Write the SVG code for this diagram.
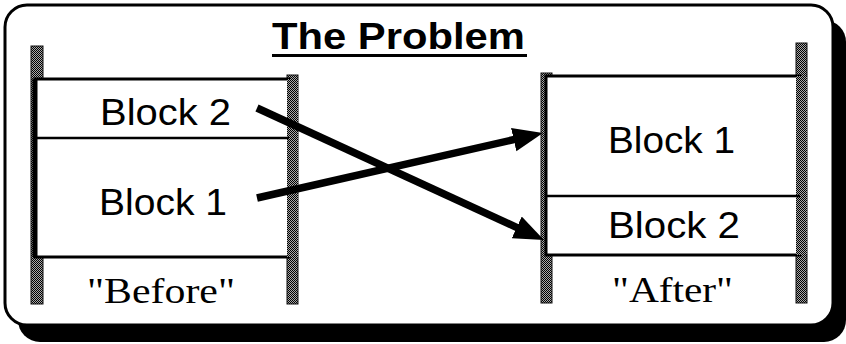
<svg xmlns="http://www.w3.org/2000/svg" width="846" height="344" viewBox="0 0 846 344">
<defs>
<pattern id="dots" width="2" height="2" patternUnits="userSpaceOnUse">
<rect width="2" height="2" fill="#aaa"/>
<rect width="1" height="1" fill="#000"/>
<rect x="1" y="1" width="1" height="1" fill="#000"/>
</pattern>
<marker id="head" markerUnits="userSpaceOnUse" markerWidth="32" markerHeight="26" refX="8" refY="13" orient="auto">
<path d="M0,1 L30,13 L0,25 Z" fill="#000"/>
</marker>
<style>
.post{fill:url(#dots);stroke:#111;stroke-width:1}
.box{fill:#fff;stroke:#000;stroke-width:3}
.div{stroke:#000;stroke-width:2.5}
.lbl{font-family:"Liberation Sans",Arial,sans-serif;font-size:36px;fill:#000;text-anchor:middle}
.cap{font-family:"Liberation Serif","Times New Roman",serif;font-size:36px;fill:#000;text-anchor:middle}
.title{font-family:"Liberation Sans",Arial,sans-serif;font-size:36px;font-weight:bold;fill:#000;text-anchor:middle}
.arrow{stroke:#000;stroke-width:7.5;fill:none;marker-end:url(#head)}
</style>
</defs>
<rect width="846" height="344" fill="#fff"/>
<g id="frame">
<rect x="18" y="20" width="828" height="322" rx="22" fill="#000"/>
<rect x="5" y="5" width="828" height="320" rx="22" fill="#fff" stroke="#000" stroke-width="3"/>
</g>
<g id="title">
<text class="title" x="398.5" y="49" textLength="253" lengthAdjust="spacingAndGlyphs">The Problem</text>
<line x1="272" y1="55.5" x2="527" y2="55.5" stroke="#000" stroke-width="3"/>
</g>
<g id="before">
<rect class="post" x="31" y="46" width="12" height="258"/>
<rect class="post" x="287" y="75" width="11" height="229"/>
<rect class="box" x="35" y="79" width="254" height="178"/>
<line x1="35" y1="79" x2="35" y2="257" stroke="#000" stroke-width="5"/>
<rect x="287" y="79" width="11" height="178" fill="url(#dots)"/>
<line class="div" x1="35" y1="138" x2="289" y2="138"/>
<text class="lbl" x="165.5" y="125" textLength="131" lengthAdjust="spacingAndGlyphs">Block 2</text>
<text class="lbl" x="163" y="215" textLength="128" lengthAdjust="spacingAndGlyphs">Block 1</text>
<text class="cap" x="161" y="303" textLength="148" lengthAdjust="spacingAndGlyphs">"Before"</text>
</g>
<g id="after">
<rect class="post" x="541" y="73" width="11" height="230"/>
<rect class="post" x="796" y="43" width="11" height="260"/>
<rect class="box" x="546" y="76" width="254" height="179"/>
<rect x="796" y="76" width="11" height="179" fill="url(#dots)"/>
<line class="div" x1="546" y1="196" x2="800" y2="196"/>
<text class="lbl" x="671.5" y="153" textLength="127" lengthAdjust="spacingAndGlyphs">Block 1</text>
<text class="lbl" x="674" y="238" textLength="132" lengthAdjust="spacingAndGlyphs">Block 2</text>
<text class="cap" x="672.5" y="302" textLength="121" lengthAdjust="spacingAndGlyphs">"After"</text>
</g>
<g id="connectors">
<line class="arrow" x1="257" y1="108" x2="524" y2="230.8"/>
<line class="arrow" x1="257" y1="198" x2="521.5" y2="137.9"/>
</g>
</svg>
